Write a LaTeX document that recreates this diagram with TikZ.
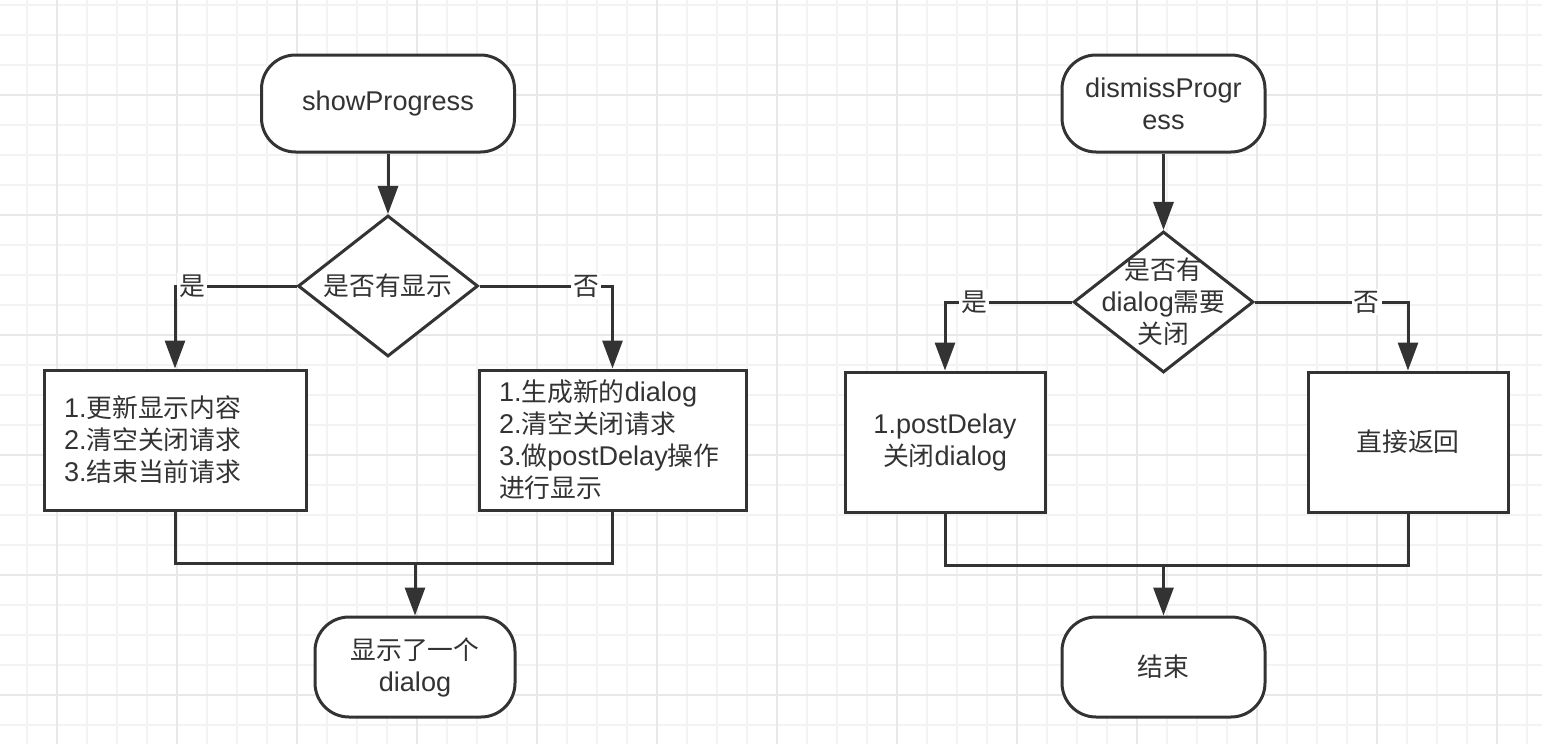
\documentclass[tikz,border=0pt]{standalone}
\usepackage{fontspec}
\setmainfont{Liberation Sans}[Scale=1.05]
\newfontfamily\zhfont{Noto Sans CJK SC}
\newcommand\zh[1]{{\zhfont #1}}
\usetikzlibrary{shapes.geometric, arrows.meta, positioning}
\definecolor{ink}{HTML}{333333}
\definecolor{gridminor}{HTML}{F3F3F3}
\definecolor{gridmajor}{HTML}{E8E8E8}
\tikzset {
    x=0.5pt, y=-0.5pt,
    >={Triangle[width=10pt,length=14pt]},
    every node/.style={font=\fontsize{12.9pt}{16pt}\selectfont, text=ink},
    term/.style={draw=ink, line width=1.5pt, fill=white, rounded corners=17pt,
        align=center, minimum height=48.5pt},
    decision/.style={diamond, draw=ink, line width=1.5pt, fill=white,
        minimum width=90pt, minimum height=70.5pt, inner sep=0pt},
    stepbox/.style={draw=ink, line width=1.5pt, fill=white, minimum height=70pt},
    listbox/.style={stepbox, align=left, inner xsep=10pt},
    line/.style={draw=ink, line width=1.5pt},
    arrow/.style={line, ->},
    branch/.style={fill=white, inner sep=1pt},
    minorgrid/.style={draw=gridminor, line width=1pt},
    majorgrid/.style={draw=gridmajor, line width=1pt}
}

\begin{document}
\begin{tikzpicture}
    % paper and grid
    \fill[white] (0,0) rectangle (1542,744);
    \useasboundingbox (0,0) rectangle (1542,744);
    \foreach \i in {0,...,51} \draw[minorgrid] ({-3.3+30*\i},0) -- ++(0,744);
    \foreach \j in {0,...,24} \draw[minorgrid] (0,{5+30*\j}) -- ++(1542,0);
    \foreach \i in {0,...,12} \draw[majorgrid] ({56.7+120*\i},0) -- ++(0,744);
    \foreach \j in {0,...,5} \draw[majorgrid] (0,{95+120*\j}) -- ++(1542,0);

    % showProgress
    \node[term, minimum width=126.5pt] (show) at (388,103.5) {showProgress};
    \node[decision, below of=show, node distance=91.25pt,
        label={center:\zh{是否有显示}}] (askshow) {};
    \node[listbox, text width=111pt] (update) at (175,440)
        {1.\zh{更新显示内容}\\2.\zh{清空关闭请求}\\3.\zh{结束当前请求}};
    \node[listbox, text width=113.5pt] (create) at (612.5,440)
        {1.\zh{生成新的}dialog\\2.\zh{清空关闭请求}\\3.\zh{做}postDelay\zh{操作}\\\zh{进行显示}};
    \node[term, minimum width=100pt, minimum height=50pt] (shown) at (415,667)
        {\zh{显示了一个}\\dialog};
    \coordinate (joinshow) at (415,563);

    \draw[arrow] (show) -- (askshow);
    \draw[arrow] (askshow.west) -| node[branch, pos=.43] {\zh{是}} (update.north);
    \draw[arrow] (askshow.east) -| node[branch, pos=.40] {\zh{否}} (create.north);
    \draw[line] (update.south) |- (joinshow) -| (create.south);
    \draw[arrow] (joinshow) -- (shown);

    % dismissProgress
    \node[term, minimum width=101.5pt] (dismiss) at (1163.5,103.5) {dismissProgr\\ess};
    \node[decision, below of=dismiss, node distance=99.25pt,
        label={[align=center]center:{\zh{是否有}\\dialog\zh{需要}\\\zh{关闭}}}] (askclose) {};
    \node[stepbox, align=center, minimum width=100pt] (delay) at (945,442)
        {1.postDelay\\\zh{关闭}dialog};
    \node[stepbox, align=center, minimum width=100pt] (direct) at (1408,442) {\zh{直接返回}};
    \node[term, minimum width=101.5pt, minimum height=50pt] (done) at (1163.5,667) {\zh{结束}};
    \coordinate (joinclose) at (1163.5,565);

    \draw[arrow] (dismiss) -- (askclose);
    \draw[arrow] (askclose.west) -| node[branch, pos=.385] {\zh{是}} (delay.north);
    \draw[arrow] (askclose.east) -| node[branch, pos=.365] {\zh{否}} (direct.north);
    \draw[line] (delay.south) |- (joinclose) -| (direct.south);
    \draw[arrow] (joinclose) -- (done);
\end{tikzpicture}
\end{document}
